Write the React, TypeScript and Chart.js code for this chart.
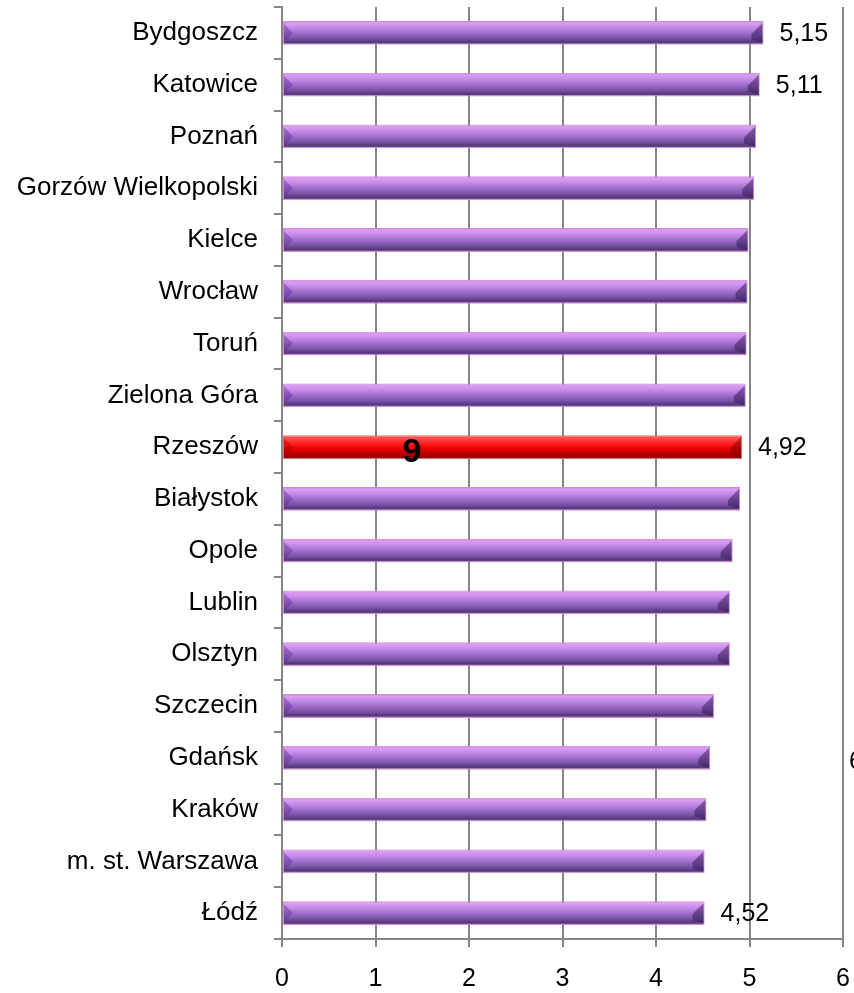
import React, { useEffect, useRef } from "react";
import { Chart, registerables } from "chart.js";

Chart.register(...registerables);

const cities: string[] = [
  "Bydgoszcz",
  "Katowice",
  "Poznań",
  "Gorzów Wielkopolski",
  "Kielce",
  "Wrocław",
  "Toruń",
  "Zielona Góra",
  "Rzeszów",
  "Białystok",
  "Opole",
  "Lublin",
  "Olsztyn",
  "Szczecin",
  "Gdańsk",
  "Kraków",
  "m. st. Warszawa",
  "Łódź",
];

const values: number[] = [
  5.15, 5.11, 5.07, 5.05, 4.99, 4.98, 4.97, 4.96, 4.92, 4.9, 4.82, 4.79, 4.79,
  4.62, 4.58, 4.54, 4.52, 4.52,
];

const highlightCity = "Rzeszów";
const labeledCities: string[] = ["Bydgoszcz", "Katowice", "Rzeszów", "Łódź"];
const rankLabel = "9";
const rankLabelValue = 1.39;
const clippedLabel = "6";
const clippedLabelCity = "Gdańsk";
const xTicks: number[] = [0, 1, 2, 3, 4, 5, 6];

const FONT = "'Liberation Sans', Arial, sans-serif";

function makeGradient(chart: any, idx: number, red: boolean) {
  const fallback = red ? "#e00000" : "#9a6ac8";
  const ctx = chart.ctx;
  const yScale = chart.scales && chart.scales.y;
  if (!yScale || !chart.chartArea) return fallback;
  const y = yScale.getPixelForValue(idx);
  if (!Number.isFinite(y)) return fallback;
  const h = 24;
  const g = ctx.createLinearGradient(0, y - h / 2, 0, y + h / 2);
  if (red) {
    g.addColorStop(0, "#ff7070");
    g.addColorStop(0.1, "#ff5050");
    g.addColorStop(0.3, "#ff2a2a");
    g.addColorStop(0.55, "#ee0000");
    g.addColorStop(0.8, "#b80000");
    g.addColorStop(0.92, "#8c0000");
    g.addColorStop(1, "#e06060");
  } else {
    g.addColorStop(0, "#e06fe6");
    g.addColorStop(0.1, "#d99ff5");
    g.addColorStop(0.28, "#c48ae8");
    g.addColorStop(0.5, "#9f70cc");
    g.addColorStop(0.75, "#7550a2");
    g.addColorStop(0.9, "#533576");
    g.addColorStop(1, "#d683d8");
  }
  return g;
}

const bevelPlugin = {
  id: "bevel",
  afterDatasetsDraw(chart: any) {
    const ctx = chart.ctx;
    const meta = chart.getDatasetMeta(0);
    meta.data.forEach((bar: any, i: number) => {
      const red = cities[i] === highlightCity;
      const xr = bar.x;
      const xl = bar.base;
      const yt = bar.y - bar.height / 2;
      const yb = bar.y + bar.height / 2;
      const ym = bar.y;
      ctx.save();
      ctx.beginPath();
      ctx.moveTo(xr - 1, yt + 2);
      ctx.lineTo(xr - 1, yb - 2);
      ctx.lineTo(xr - 12, yb - 5);
      ctx.lineTo(xr - 12, ym + 1);
      ctx.closePath();
      ctx.fillStyle = red ? "rgba(110,0,0,0.45)" : "rgba(50,20,80,0.5)";
      ctx.fill();
      ctx.beginPath();
      ctx.moveTo(xl + 1, yt + 3);
      ctx.lineTo(xl + 10, ym);
      ctx.lineTo(xl + 1, yb - 3);
      ctx.closePath();
      ctx.fillStyle = red ? "rgba(150,0,0,0.35)" : "rgba(90,40,150,0.4)";
      ctx.fill();
      ctx.restore();
    });
  },
};

const labelsPlugin = {
  id: "valueLabels",
  afterDraw(chart: any) {
    const ctx = chart.ctx;
    const meta = chart.getDatasetMeta(0);
    const xScale = chart.scales.x;
    const yScale = chart.scales.y;
    ctx.save();
    ctx.fillStyle = "#000";
    ctx.textBaseline = "middle";
    ctx.textAlign = "left";
    ctx.font = `25px ${FONT}`;
    meta.data.forEach((bar: any, i: number) => {
      if (labeledCities.includes(cities[i])) {
        ctx.fillText(values[i].toFixed(2).replace(".", ","), bar.x + 16, bar.y + 1);
      }
    });
    const hi = cities.indexOf(highlightCity);
    ctx.font = `bold 34px ${FONT}`;
    ctx.textAlign = "center";
    ctx.fillText(rankLabel, xScale.getPixelForValue(rankLabelValue), yScale.getPixelForValue(hi) + 6);
    const ci = cities.indexOf(clippedLabelCity);
    ctx.font = `25px ${FONT}`;
    ctx.textAlign = "left";
    ctx.fillText(clippedLabel, chart.chartArea.right + 6, yScale.getPixelForValue(ci) + 4);
    ctx.restore();
  },
};

function zeroPadding(scale: any) {
  scale.paddingTop = 0;
  scale.paddingBottom = 0;
  scale.paddingLeft = 0;
  scale.paddingRight = 0;
}

export default function App() {
  const ref = useRef<HTMLCanvasElement | null>(null);

  useEffect(() => {
    document.body.style.margin = "0";
    const canvas = ref.current;
    if (!canvas) return;
    const chart = new Chart(canvas, {
      type: "bar",
      data: {
        labels: cities,
        datasets: [
          {
            data: values,
            backgroundColor: (c: any) =>
              makeGradient(c.chart, c.dataIndex, cities[c.dataIndex] === highlightCity),
            borderColor: (c: any) =>
              cities[c.dataIndex] === highlightCity ? "#d87070" : "#c98fd0",
            borderWidth: 1,
            borderSkipped: false,
            barPercentage: 0.46,
            categoryPercentage: 1,
          },
        ],
      },
      options: {
        indexAxis: "y",
        animation: false,
        responsive: false,
        maintainAspectRatio: false,
        layout: { padding: { top: 7, right: 11, bottom: 0, left: 0 } },
        plugins: {
          legend: { display: false },
          tooltip: { enabled: false },
        },
        scales: {
          x: {
            type: "linear",
            min: 0,
            max: 6,
            afterBuildTicks: (scale: any) => {
              scale.ticks = xTicks.map((v) => ({ value: v }));
            },
            afterFit: (scale: any) => {
              scale.height = 54;
              zeroPadding(scale);
            },
            ticks: {
              color: "#000",
              font: { family: FONT, size: 25 },
              padding: 17,
              maxRotation: 0,
            },
            grid: {
              color: "#868686",
              lineWidth: 2,
              tickLength: 8,
              drawTicks: true,
            },
            border: { display: true, color: "#868686", width: 2 },
          },
          y: {
            type: "category",
            afterFit: (scale: any) => {
              scale.width = 282;
              zeroPadding(scale);
            },
            ticks: {
              color: "#000",
              font: { family: FONT, size: 26 },
              padding: 16,
              autoSkip: false,
            },
            grid: {
              offset: true,
              drawOnChartArea: false,
              drawTicks: true,
              tickLength: 8,
              color: "#868686",
              lineWidth: 2,
            },
            border: { display: true, color: "#868686", width: 2 },
          },
        },
      },
      plugins: [bevelPlugin, labelsPlugin],
    } as any);
    return () => chart.destroy();
  }, []);

  return (
    <canvas
      ref={ref}
      width={854}
      height={993}
      style={{ display: "block", width: 854, height: 993 }}
    />
  );
}
